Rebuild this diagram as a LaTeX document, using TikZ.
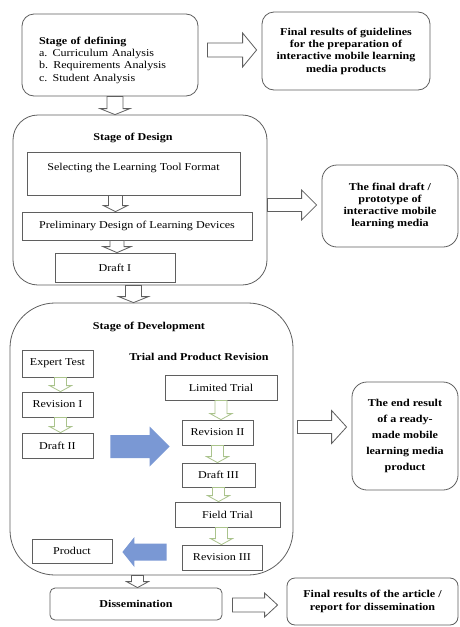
\documentclass[tikz,border=0pt]{standalone}
\usepackage{fontspec}
\setmainfont[FakeStretch=1.15]{Liberation Serif}
\usepackage{tikz}
\usetikzlibrary{calc}
\usetikzlibrary{positioning}

\definecolor{linegray}{RGB}{95,95,95}
\definecolor{arrowgreen}{RGB}{170,195,140}
\definecolor{arrowblue}{RGB}{122,152,212}

\tikzset{
	txt/.style={font=\fontsize{10.5}{12.3}\selectfont},
	stage/.style={txt,draw=linegray,line width=0.8pt,rounded corners=#1,align=center,inner sep=2pt},
	stepbox/.style={txt,draw=linegray,line width=0.8pt,align=center,inner sep=2pt},
	hollow/.style={draw=linegray,line width=0.8pt,fill=white,line join=miter},
	greenarr/.style={draw=arrowgreen,line width=0.8pt,fill=white},
	bluearr/.style={fill=arrowblue,draw=none},
}

% block arrow: [style]{from}{to}{shaft half width}{head half width}{head length}
\newcommand{\fatarrow}[6][hollow]{%
	\draw[#1] ($(#2)!#4!90:(#3)$) -- ($($(#3)!#6!(#2)$)!#4!-90:(#2)$)
		-- ($($(#3)!#6!(#2)$)!#5!-90:(#2)$) -- (#3)
		-- ($($(#3)!#6!(#2)$)!#5!90:(#2)$) -- ($($(#3)!#6!(#2)$)!#4!90:(#2)$)
		-- ($(#2)!#4!-90:(#3)$) -- cycle;}

\begin{document}
\begin{tikzpicture}[x=1pt,y=-1pt]
	\useasboundingbox[fill=white] (0,0) rectangle (460,627);
	
	% stage of defining
	\node[stage=12pt,minimum width=176pt,minimum height=82pt] (def) at (110,55) {};
	\node[txt,text width=130pt,align=left,inner sep=0pt] (def text) at (104,60)
		{\textbf{Stage of defining}\\a. Curriculum Analysis\\b. Requirements Analysis\\c. Student Analysis};
	\node[stage=12pt,minimum width=168pt,minimum height=78pt,font=\fontsize{10.5}{12.3}\selectfont\bfseries] (res1) at (346,51)
		{Final results of guidelines\\for the preparation of\\interactive mobile learning\\media products};
	
	% stage of design
	\node[stage=25pt,minimum width=254pt,minimum height=170pt] (design) at (140,200) {};
	\node[txt,font=\fontsize{10.5}{12.3}\selectfont\bfseries] (design title) at (133,138) {Stage of Design};
	\node[stepbox,minimum width=213pt,minimum height=43pt,text depth=14pt] (select) at (133.5,173.5) {Selecting the Learning Tool Format};
	\node[stepbox,minimum width=230pt,minimum height=28pt] (prelim) at (137,226) {Preliminary Design of Learning Devices};
	\node[stepbox,minimum width=120pt,minimum height=29pt] (draft1) at (115,267.5) {Draft I};
	\node[stage=15pt,minimum width=136pt,minimum height=82pt,font=\fontsize{10.5}{12.3}\selectfont\bfseries] (res2) at (390,206)
		{The final draft /\\prototype of\\interactive mobile\\learning media};
	
	% stage of development
	\node[stage=45pt,minimum width=283pt,minimum height=272pt] (dev) at (151.5,439) {};
	\node[txt,font=\fontsize{10.5}{12.3}\selectfont\bfseries] (dev title) at (149,327) {Stage of Development};
	\node[txt,font=\fontsize{10.5}{12.3}\selectfont\bfseries] (trial title) at (199,357) {Trial and Product Revision};
	\node[stepbox,minimum width=71pt,minimum height=27pt] (expert) at (57.5,363.5) {Expert Test};
	\node[stepbox,minimum width=71pt,minimum height=25pt] (rev1) at (57.5,404.5) {Revision I};
	\node[stepbox,minimum width=71pt,minimum height=25pt] (draft2) at (57.5,445.5) {Draft II};
	\node[stepbox,minimum width=112pt,minimum height=25pt] (limited) at (221,387.5) {Limited Trial};
	\node[stepbox,minimum width=71pt,minimum height=25pt] (rev2) at (217.5,432.5) {Revision II};
	\node[stepbox,minimum width=73pt,minimum height=24pt] (draft3) at (218.5,475) {Draft III};
	\node[stepbox,minimum width=105pt,minimum height=25pt] (field) at (227.5,514.5) {Field Trial};
	\node[stepbox,minimum width=80pt,minimum height=25pt] (rev3) at (222,557.5) {Revision III};
	\node[stepbox,minimum width=80pt,minimum height=24pt] (product) at (72,551) {Product};
	\node[stage=15pt,minimum width=106pt,minimum height=108pt,font=\fontsize{10.5}{15.8}\selectfont\bfseries] (res3) at (405,436)
		{The end result\\of a ready-\\made mobile\\learning media\\product};
	
	% dissemination
	\node[stage=5pt,minimum width=172pt,minimum height=32pt,font=\fontsize{10.5}{12.3}\selectfont\bfseries] (dissem) at (136,604) {Dissemination};
	\node[stage=8pt,minimum width=171pt,minimum height=47pt,font=\fontsize{10.5}{12.3}\selectfont\bfseries] (res4) at (372.5,601.5)
		{Final results of the article /\\report for dissemination};
	
	% arrows to the results
	\fatarrow{$(def.east)+(9,-5)$}{$(res1.west)+(-5,-1)$}{7pt}{17pt}{14pt}
	\fatarrow{$(design.east)+(0,5)$}{$(res2.west)+(-5,-1)$}{6.5pt}{15pt}{15pt}
	\fatarrow{$(dev.east)+(4,-12)$}{$(res3.west)+(-5,-9)$}{6.5pt}{16.5pt}{15pt}
	\fatarrow{$(dissem.east)+(10,1)$}{$(res4.west)+(-9,3.5)$}{7pt}{12pt}{13pt}
	
	% arrows between the stages
	\fatarrow{def.south-|draft1.north}{draft1.north|-design.north}{8pt}{15pt}{6pt}
	\fatarrow{design.south-|select.south}{select.south|-dev.north}{8pt}{15pt}{6pt}
	\fatarrow{$(dev.south)+(-14,0)$}{$(dev.south|-dissem.north)+(-14,0)$}{6pt}{11pt}{6pt}
	
	% design steps
	\fatarrow{$(select.south)+(-18,0)$}{$(select.south|-prelim.north)+(-18,0)$}{7pt}{12pt}{6pt}
	\fatarrow{$(prelim.south)+(-20,0)$}{$(prelim.south|-draft1.north)+(-20,0)$}{7pt}{14pt}{6pt}
	
	% development steps
	\fatarrow[greenarr]{$(expert.south)+(3,0)$}{$(expert.south|-rev1.north)+(3,0)$}{6pt}{11pt}{6pt}
	\fatarrow[greenarr]{$(rev1.south)+(3,0)$}{$(rev1.south|-draft2.north)+(3,0)$}{6pt}{11pt}{6pt}
	\fatarrow[greenarr]{limited.south}{limited.south|-rev2.north}{6pt}{11pt}{6pt}
	\fatarrow[greenarr]{rev2.south}{rev2.south|-draft3.north}{6pt}{11pt}{6pt}
	\fatarrow[greenarr]{draft3.south}{draft3.south|-field.north}{6pt}{11pt}{6pt}
	\fatarrow[greenarr]{$(field.south)+(-6,0)$}{$(field.south|-rev3.north)+(-6,0)$}{6pt}{11pt}{6pt}
	\fatarrow[bluearr]{$(draft2.east)+(17,1)$}{$(limited.west|-draft2.east)+(5,1)$}{11.5pt}{20pt}{20pt}
	\fatarrow[bluearr]{$(rev3.west)+(-15,-5.5)$}{$(product.east)+(10,1)$}{8.5pt}{15pt}{12pt}
\end{tikzpicture}
\end{document}
